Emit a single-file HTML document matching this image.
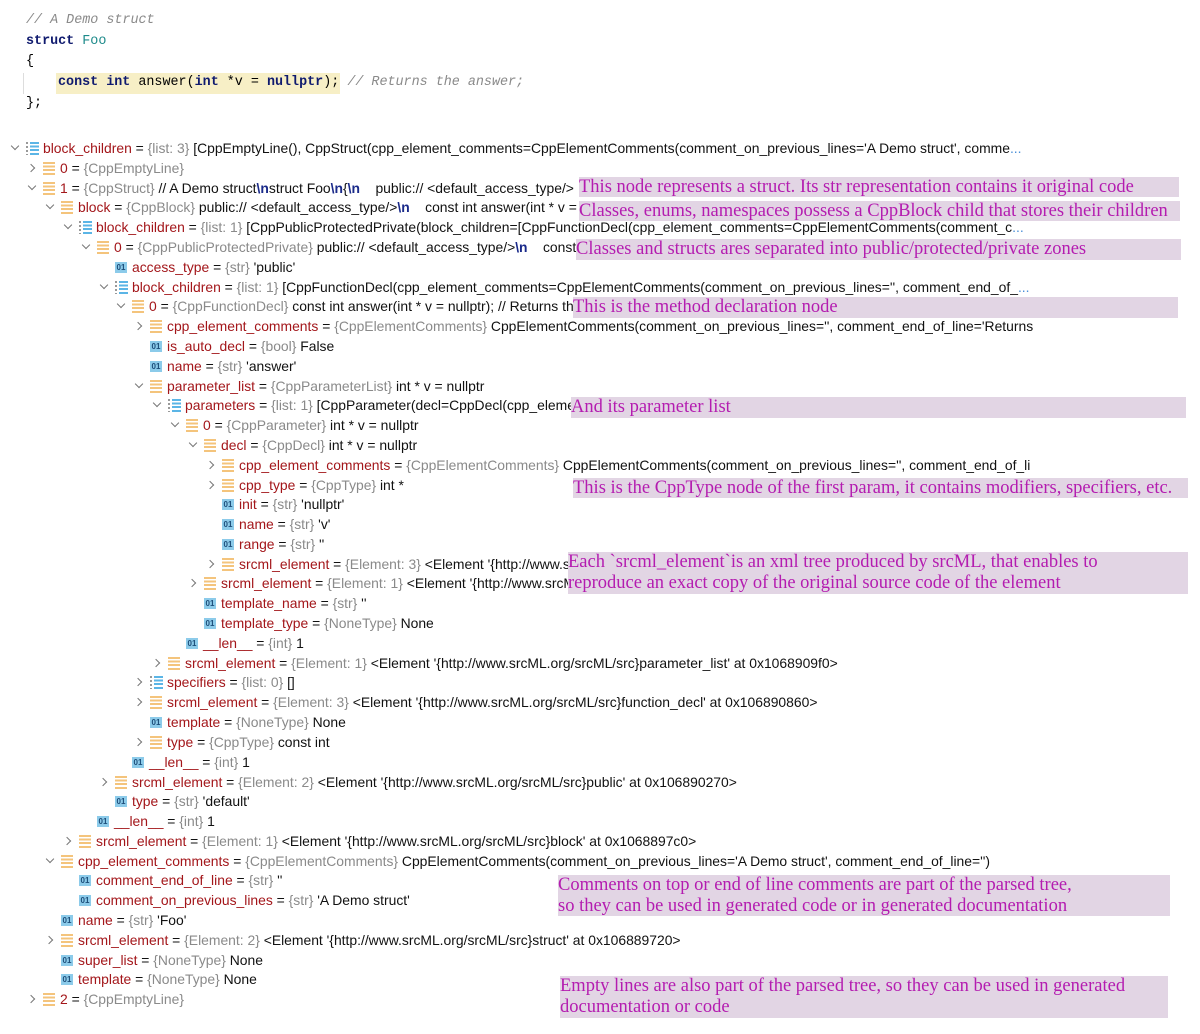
<!DOCTYPE html>
<html><head><meta charset="utf-8">
<style>
body{margin:0;width:1200px;height:1034px;background:#fff;position:relative;overflow:hidden;font-family:"Liberation Sans",sans-serif;}
.code{position:absolute;font-family:"Liberation Mono",monospace;font-size:13.4px;white-space:pre;line-height:20px;}
.kw{color:#0f1a6e;font-weight:bold}
.cm{color:#8a8a8a;font-style:italic}
.r{position:absolute;height:20px;line-height:20px;font-size:13.9px;white-space:nowrap;color:#111;}
.n{color:#a3161a}
.t{color:#8a8a8a}
.ar{position:absolute;width:5px;height:5px;border-right:1.3px solid #777;border-bottom:1.3px solid #777;}
.ar.rt{left:-32px;top:7px;transform:rotate(-45deg)}
.ar.dn{left:-31px;top:5px;transform:rotate(45deg)}
.ic{position:absolute;left:-17px;top:4px;width:12px;height:13px}
.ic.o{background:repeating-linear-gradient(#f4c47c 0 2px,transparent 2px 3.6px);}
.ic.l{background:repeating-linear-gradient(#5bb5e6 0 2px,transparent 2px 3.6px);width:9px;left:-13px}
.ic.l::before{content:"";position:absolute;left:-4px;top:0;width:2px;height:13px;background:repeating-linear-gradient(#999 0 2px,transparent 2px 4px)}
.ic.b{background:#8ccbea;width:12px;height:11px;top:5px;font-size:8px;line-height:11px;text-align:center;color:#1d4e7a;font-weight:bold}
.dots{color:#4a8fd8}
.a{position:absolute;background:#e2d5e4;color:#b41cb0;font-family:"Liberation Serif",serif;font-size:18.5px;line-height:20px;white-space:nowrap;overflow:hidden}
</style></head><body>
<div class="code" style="left:26px;top:11px"><span class="cm">// A Demo struct</span></div>
<div class="code" style="left:26px;top:32px"><span class="kw">struct</span> <span style="color:#1d8a8a">Foo</span></div>
<div class="code" style="left:26px;top:52px">{</div>
<div style="position:absolute;left:23px;top:73px;width:1px;height:21px;background:#ddd"></div>
<div style="position:absolute;left:56px;top:73px;width:284px;height:21px;background:#f7efc6"></div>
<div class="code" style="left:58px;top:73px"><span class="kw">const int</span> answer(<span class="kw">int</span> *v = <span class="kw">nullptr</span>); <span class="cm">// Returns the answer;</span></div>
<div class="code" style="left:26px;top:94px">};</div>

<div class="r" style="top:138px;left:43px"><span class="ar dn"></span><span class="ic l"></span><span class="n">block_children</span> = <span class="t">{list: 3}</span> [CppEmptyLine(), CppStruct(cpp_element_comments=CppElementComments(comment_on_previous_lines='A Demo struct', comme<span class="dots">...</span></div>
<div class="r" style="top:158px;left:60px"><span class="ar rt"></span><span class="ic o"></span><span class="n">0</span> = <span class="t">{CppEmptyLine}</span></div>
<div class="r" style="top:178px;left:60px"><span class="ar dn"></span><span class="ic o"></span><span class="n">1</span> = <span class="t">{CppStruct}</span> // A Demo struct<b style="color:#1a2a8a">\n</b>struct Foo<b style="color:#1a2a8a">\n</b>{<b style="color:#1a2a8a">\n</b> &nbsp;&nbsp; public:// &lt;default_access_type/&gt;</div>
<div class="r" style="top:197px;left:78px"><span class="ar dn"></span><span class="ic o"></span><span class="n">block</span> = <span class="t">{CppBlock}</span> public:// &lt;default_access_type/&gt;<b style="color:#1a2a8a">\n</b> &nbsp;&nbsp; const int answer(int * v = nullptr</div>
<div class="r" style="top:217px;left:96px"><span class="ar dn"></span><span class="ic l"></span><span class="n">block_children</span> = <span class="t">{list: 1}</span> [CppPublicProtectedPrivate(block_children=[CppFunctionDecl(cpp_element_comments=CppElementComments(comment_c<span class="dots">...</span></div>
<div class="r" style="top:237px;left:114px"><span class="ar dn"></span><span class="ic o"></span><span class="n">0</span> = <span class="t">{CppPublicProtectedPrivate}</span> public:// &lt;default_access_type/&gt;<b style="color:#1a2a8a">\n</b> &nbsp;&nbsp; const int</div>
<div class="r" style="top:257px;left:132px"><span class="ic b">01</span><span class="n">access_type</span> = <span class="t">{str}</span> 'public'</div>
<div class="r" style="top:277px;left:132px"><span class="ar dn"></span><span class="ic l"></span><span class="n">block_children</span> = <span class="t">{list: 1}</span> [CppFunctionDecl(cpp_element_comments=CppElementComments(comment_on_previous_lines='', comment_end_of_<span class="dots">...</span></div>
<div class="r" style="top:296px;left:149px"><span class="ar dn"></span><span class="ic o"></span><span class="n">0</span> = <span class="t">{CppFunctionDecl}</span> const int answer(int * v = nullptr); // Returns the answer</div>
<div class="r" style="top:316px;left:167px"><span class="ar rt"></span><span class="ic o"></span><span class="n">cpp_element_comments</span> = <span class="t">{CppElementComments}</span> CppElementComments(comment_on_previous_lines='', comment_end_of_line='Returns</div>
<div class="r" style="top:336px;left:167px"><span class="ic b">01</span><span class="n">is_auto_decl</span> = <span class="t">{bool}</span> False</div>
<div class="r" style="top:356px;left:167px"><span class="ic b">01</span><span class="n">name</span> = <span class="t">{str}</span> 'answer'</div>
<div class="r" style="top:376px;left:167px"><span class="ar dn"></span><span class="ic o"></span><span class="n">parameter_list</span> = <span class="t">{CppParameterList}</span> int * v = nullptr</div>
<div class="r" style="top:395px;left:185px"><span class="ar dn"></span><span class="ic l"></span><span class="n">parameters</span> = <span class="t">{list: 1}</span> [CppParameter(decl=CppDecl(cpp_element_comments</div>
<div class="r" style="top:415px;left:203px"><span class="ar dn"></span><span class="ic o"></span><span class="n">0</span> = <span class="t">{CppParameter}</span> int * v = nullptr</div>
<div class="r" style="top:435px;left:221px"><span class="ar dn"></span><span class="ic o"></span><span class="n">decl</span> = <span class="t">{CppDecl}</span> int * v = nullptr</div>
<div class="r" style="top:455px;left:239px"><span class="ar rt"></span><span class="ic o"></span><span class="n">cpp_element_comments</span> = <span class="t">{CppElementComments}</span> CppElementComments(comment_on_previous_lines='', comment_end_of_li</div>
<div class="r" style="top:475px;left:239px"><span class="ar rt"></span><span class="ic o"></span><span class="n">cpp_type</span> = <span class="t">{CppType}</span> int *</div>
<div class="r" style="top:494px;left:239px"><span class="ic b">01</span><span class="n">init</span> = <span class="t">{str}</span> 'nullptr'</div>
<div class="r" style="top:514px;left:239px"><span class="ic b">01</span><span class="n">name</span> = <span class="t">{str}</span> 'v'</div>
<div class="r" style="top:534px;left:239px"><span class="ic b">01</span><span class="n">range</span> = <span class="t">{str}</span> ''</div>
<div class="r" style="top:554px;left:239px"><span class="ar rt"></span><span class="ic o"></span><span class="n">srcml_element</span> = <span class="t">{Element: 3}</span> &lt;Element '{http://www.srcML</div>
<div class="r" style="top:573px;left:221px"><span class="ar rt"></span><span class="ic o"></span><span class="n">srcml_element</span> = <span class="t">{Element: 1}</span> &lt;Element '{http://www.srcML</div>
<div class="r" style="top:593px;left:221px"><span class="ic b">01</span><span class="n">template_name</span> = <span class="t">{str}</span> ''</div>
<div class="r" style="top:613px;left:221px"><span class="ic b">01</span><span class="n">template_type</span> = <span class="t">{NoneType}</span> None</div>
<div class="r" style="top:633px;left:203px"><span class="ic b">01</span><span class="n">__len__</span> = <span class="t">{int}</span> 1</div>
<div class="r" style="top:653px;left:185px"><span class="ar rt"></span><span class="ic o"></span><span class="n">srcml_element</span> = <span class="t">{Element: 1}</span> &lt;Element '{http://www.srcML.org/srcML/src}parameter_list' at 0x1068909f0&gt;</div>
<div class="r" style="top:672px;left:167px"><span class="ar rt"></span><span class="ic l"></span><span class="n">specifiers</span> = <span class="t">{list: 0}</span> []</div>
<div class="r" style="top:692px;left:167px"><span class="ar rt"></span><span class="ic o"></span><span class="n">srcml_element</span> = <span class="t">{Element: 3}</span> &lt;Element '{http://www.srcML.org/srcML/src}function_decl' at 0x106890860&gt;</div>
<div class="r" style="top:712px;left:167px"><span class="ic b">01</span><span class="n">template</span> = <span class="t">{NoneType}</span> None</div>
<div class="r" style="top:732px;left:167px"><span class="ar rt"></span><span class="ic o"></span><span class="n">type</span> = <span class="t">{CppType}</span> const int</div>
<div class="r" style="top:752px;left:149px"><span class="ic b">01</span><span class="n">__len__</span> = <span class="t">{int}</span> 1</div>
<div class="r" style="top:772px;left:132px"><span class="ar rt"></span><span class="ic o"></span><span class="n">srcml_element</span> = <span class="t">{Element: 2}</span> &lt;Element '{http://www.srcML.org/srcML/src}public' at 0x106890270&gt;</div>
<div class="r" style="top:791px;left:132px"><span class="ic b">01</span><span class="n">type</span> = <span class="t">{str}</span> 'default'</div>
<div class="r" style="top:811px;left:114px"><span class="ic b">01</span><span class="n">__len__</span> = <span class="t">{int}</span> 1</div>
<div class="r" style="top:831px;left:96px"><span class="ar rt"></span><span class="ic o"></span><span class="n">srcml_element</span> = <span class="t">{Element: 1}</span> &lt;Element '{http://www.srcML.org/srcML/src}block' at 0x1068897c0&gt;</div>
<div class="r" style="top:851px;left:78px"><span class="ar dn"></span><span class="ic o"></span><span class="n">cpp_element_comments</span> = <span class="t">{CppElementComments}</span> CppElementComments(comment_on_previous_lines='A Demo struct', comment_end_of_line='')</div>
<div class="r" style="top:870px;left:96px"><span class="ic b">01</span><span class="n">comment_end_of_line</span> = <span class="t">{str}</span> ''</div>
<div class="r" style="top:890px;left:96px"><span class="ic b">01</span><span class="n">comment_on_previous_lines</span> = <span class="t">{str}</span> 'A Demo struct'</div>
<div class="r" style="top:910px;left:78px"><span class="ic b">01</span><span class="n">name</span> = <span class="t">{str}</span> 'Foo'</div>
<div class="r" style="top:930px;left:78px"><span class="ar rt"></span><span class="ic o"></span><span class="n">srcml_element</span> = <span class="t">{Element: 2}</span> &lt;Element '{http://www.srcML.org/srcML/src}struct' at 0x106889720&gt;</div>
<div class="r" style="top:950px;left:78px"><span class="ic b">01</span><span class="n">super_list</span> = <span class="t">{NoneType}</span> None</div>
<div class="r" style="top:969px;left:78px"><span class="ic b">01</span><span class="n">template</span> = <span class="t">{NoneType}</span> None</div>
<div class="r" style="top:989px;left:60px"><span class="ar rt"></span><span class="ic o"></span><span class="n">2</span> = <span class="t">{CppEmptyLine}</span></div>

<div class="a" style="left:579px;top:177px;width:600px;height:20px">This node represents a struct. Its str representation contains it original code</div>
<div class="a" style="left:579px;top:201px;width:601px;height:20px">Classes, enums, namespaces possess a CppBlock child that stores their children</div>
<div class="a" style="left:576px;top:239px;width:605px;height:21px">Classes and structs ares separated into public/protected/private zones</div>
<div class="a" style="left:573px;top:297px;width:605px;height:21px">This is the method declaration node</div>
<div class="a" style="left:571px;top:397px;width:615px;height:21px">And its parameter list</div>
<div class="a" style="left:573px;top:478px;width:615px;height:20px">This is the CppType node of the first param, it contains modifiers, specifiers, etc.</div>
<div class="a" style="left:568px;top:552px;width:620px;height:42px;line-height:21px">Each `srcml_element`is an xml tree produced by srcML, that enables to<br>reproduce an exact copy of the original source code of the element</div>
<div class="a" style="left:558px;top:875px;width:612px;height:41px;line-height:21px">Comments on top or end of line comments are part of the parsed tree,<br>so they can be used in generated code or in generated documentation</div>
<div class="a" style="left:560px;top:976px;width:608px;height:42px;line-height:21px">Empty lines are also part of the parsed tree, so they can be used in generated<br>documentation or code</div>
</body></html>
